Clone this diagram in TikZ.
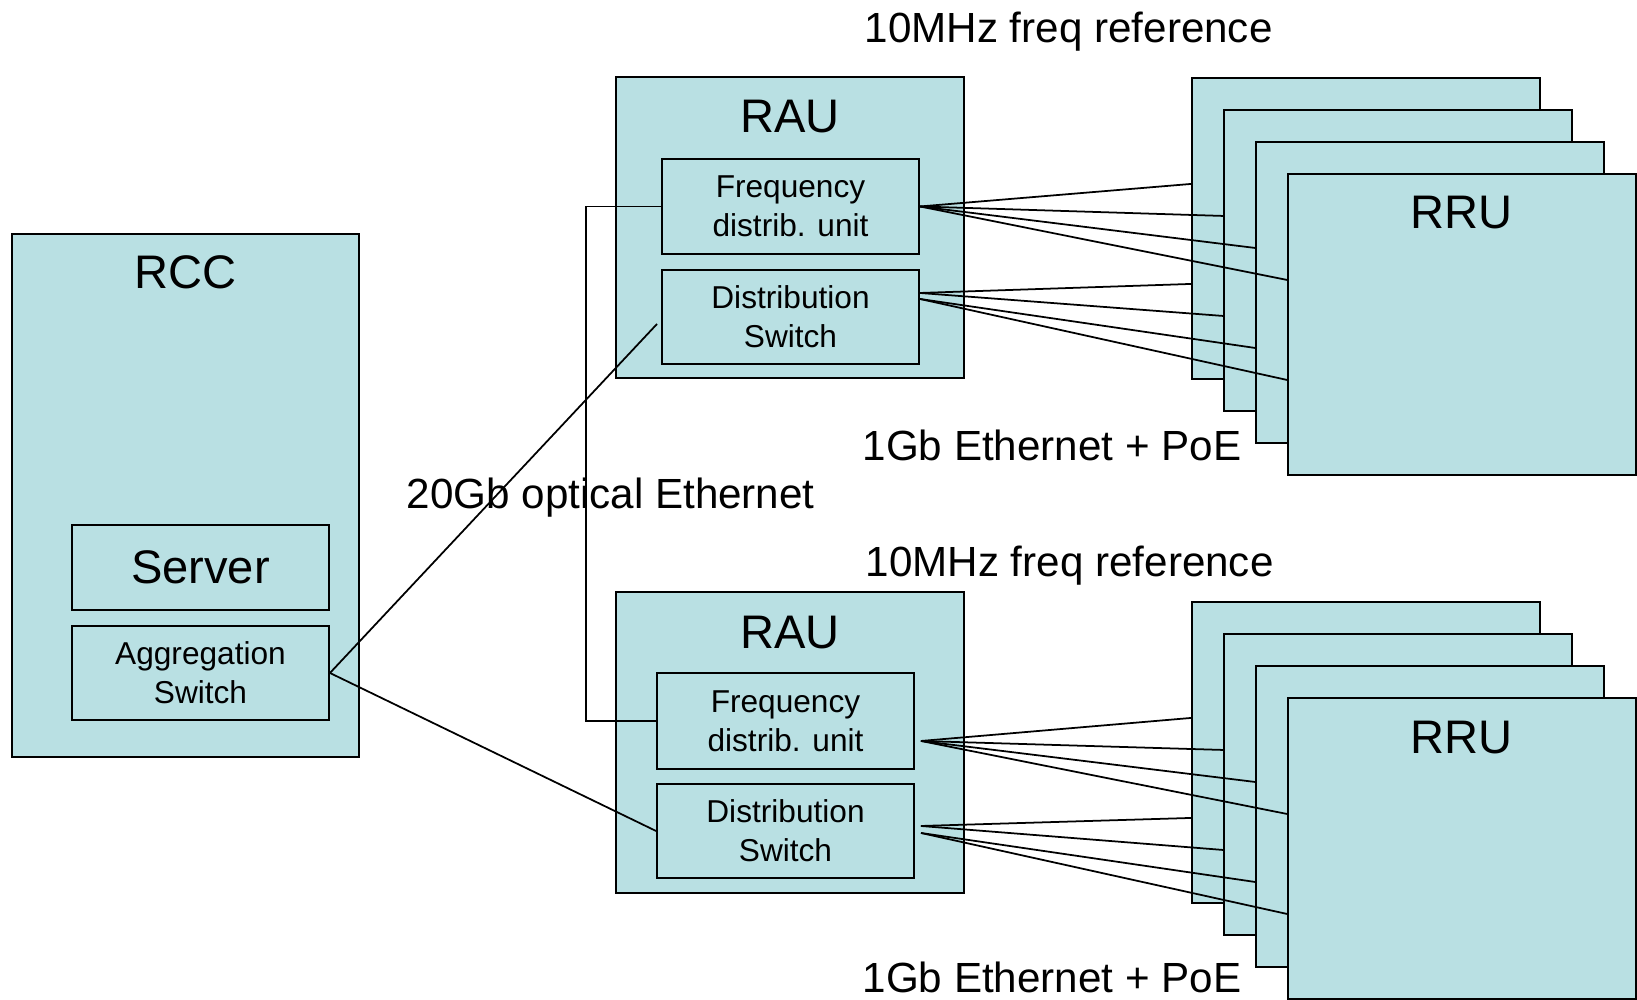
\documentclass[tikz,border=0pt]{standalone}
\usepackage{fontspec}
\setmainfont{Liberation Sans}
\usepackage{tikz}
\usepackage{xcolor}

\definecolor{unitfill}{RGB}{185,224,227}

\begin{document}
\begin{tikzpicture}[
		unit/.style={draw, line width=0.55pt, fill=unitfill, inner sep=0pt, minimum width=3.48cm, minimum height=3.01cm},
		part/.style={draw, line width=0.55pt, fill=unitfill, inner sep=0pt, minimum width=2.57cm, minimum height=0.94cm, align=center, font=\fontsize{9}{11}\selectfont},
		title/.style={anchor=base, inner sep=0pt, font=\fontsize{13.4}{16}\selectfont},
		linklabel/.style={anchor=base west, inner sep=0pt, font=\fontsize{12}{14}\selectfont},
		wire/.style={line width=0.5pt}]
			\useasboundingbox (0,0) rectangle (16.37,10);
			\node[unit, minimum width=3.47cm, minimum height=5.23cm] (rcc) at (1.855,5.045) {};
			\node[title] (rcc-title) at ([yshift=-0.55cm]rcc.north) {RCC};
			\node[part, minimum height=0.85cm, font=\fontsize{13.4}{16}\selectfont] (server) at (2.005,4.325) {Server};
			\node[part] (aggsw) at (2.005,3.27) {Aggregation\\Switch};
			\node[unit] (rau1) at (7.90,7.725) {};
			\node[title] (rau1-title) at ([yshift=-0.56cm]rau1.north) {RAU};
			\node[part, minimum height=0.95cm] (freq1) at (7.905,7.935) {Frequency\\distrib. unit};
			\node[part] (dist1) at (7.905,6.83) {Distribution\\Switch};
			\node[unit] (rau2) at (7.90,2.575) {};
			\node[title] (rau2-title) at ([yshift=-0.57cm]rau2.north) {RAU};
			\node[part, minimum height=0.96cm] (freq2) at (7.855,2.79) {Frequency\\distrib. unit};
			\node[part] (dist2) at (7.855,1.69) {Distribution\\Switch};
			\foreach \k in {0,...,3} {
				\node[unit, anchor=north west] (rruA\k) at (11.91+0.32*\k, 9.23-0.32*\k) {};
				\node[unit, anchor=north west] (rruB\k) at (11.91+0.32*\k, 3.99-0.32*\k) {};
			}
			\node[title] (rruA-title) at ([yshift=-0.56cm]rruA3.north) {RRU};
			\node[title] (rruB-title) at ([yshift=-0.57cm]rruB3.north) {RRU};
			\foreach \k/\s/\t in {0/0.24/0.05,1/0.24/0.05,2/0.18/-0.02,3/0.18/-0.02} {
				\draw[wire] (freq1.east) -- ([yshift=0.445cm]rruA\k.west);
				\draw[wire] ([yshift=\s cm]dist1.east) -- ([yshift=-0.555cm]rruA\k.west);
				\draw[wire] ([shift={(0.06,-0.2)}]freq2.east) -- ([yshift=0.345cm]rruB\k.west);
				\draw[wire] ([shift={(0.06,\t)}]dist2.east) -- ([yshift=-0.655cm]rruB\k.west);
			}
			\coordinate (optend) at (6.57,6.76);
			\draw[wire] (aggsw.east) -- (optend);
			\draw[wire] (aggsw.east) -- (dist2.west);
			\draw[wire] (freq1.west) -- ++(-0.75,0) |- (freq2.west);
			\node[linklabel] (fref1) at (8.64,9.57) {10MHz freq reference};
			\node[linklabel] (eth1) at (8.62,5.39) {1Gb Ethernet + PoE};
			\node[linklabel] (optlink) at (4.06,4.91) {20Gb optical Ethernet};
			\node[linklabel] (fref2) at (8.65,4.23) {10MHz freq reference};
			\node[linklabel] (eth2) at (8.62,0.07) {1Gb Ethernet + PoE};
		\end{tikzpicture}
\end{document}
